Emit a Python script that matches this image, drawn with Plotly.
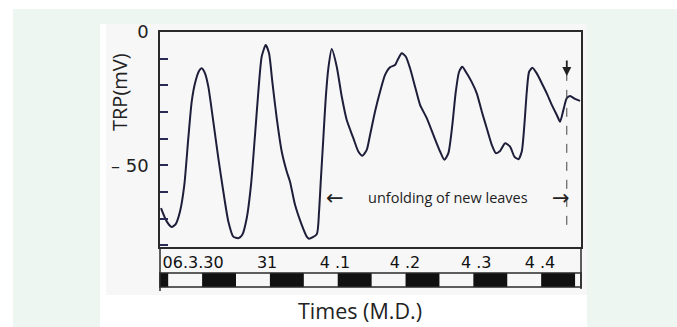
import plotly.graph_objects as go

# ---------------- data (hours from 2006-03-30 00:00, TRP in mV) ----------------
hours = [3.45, 5.47, 7.24, 8.66, 10.18, 11.71, 13.12, 14.32, 15.49, 16.91, 17.86, 19.03,
         20.2, 21.97, 23.74, 25.51, 27.28, 29.05, 30.82, 32.23, 33.79, 35.31, 36.73,
         37.9, 39.1, 40.52, 41.69, 42.85, 44.41, 46.18, 47.95, 49.12, 50.89, 53.26,
         55.03, 55.85, 58.57, 59.39, 59.99, 60.91, 61.76, 62.68, 63.88, 65.65, 67.42,
         69.19, 71.53, 73.3, 74.71, 76.27, 77.44, 79.21, 80.98, 82.75, 84.52, 86.29,
         87.46, 88.66, 90.08, 91.6, 93.37, 95.14, 97.51, 99.85, 102.22, 103.74, 105.16,
         106.57, 107.78, 108.95, 110.11, 111.67, 113.44, 115.21, 116.98, 118.75, 120.52,
         121.94, 123.46, 125.23, 127.0, 128.52, 129.94, 131.14, 132.06, 132.91, 133.73,
         134.89, 136.45, 138.22, 139.99, 141.76, 143.53, 144.7, 145.87, 147.07, 148.24,
         150.01, 151.78]
trp = [-66.0, -71.0, -73.1, -72.0, -67.3, -57.3, -39.8, -26.1, -19.2, -14.6, -13.6, -15.5,
       -20.5, -33.6, -47.3, -59.8, -71.0, -76.7, -77.3, -76.0, -69.8, -57.3, -38.6,
       -22.4, -9.2, -4.9, -8.0, -18.6, -32.3, -44.8, -52.3, -56.1, -64.8, -72.3,
       -76.7, -77.5, -75.8, -67.3, -56.1, -39.8, -24.8, -13.6, -6.4, -13.0, -24.2,
       -33.0, -39.8, -44.8, -46.4, -44.2, -38.6, -29.8, -22.4, -16.1, -13.2, -12.4,
       -9.9, -8.0, -9.2, -13.6, -20.5, -27.3, -32.3, -38.6, -44.8, -47.9, -45.4,
       -34.8, -22.4, -14.9, -13.0, -15.5, -18.8, -23.0, -29.8, -36.1, -42.3,
       -45.4, -44.6, -41.7, -43.0, -46.7, -47.7, -44.8, -34.8, -22.4, -14.9,
       -13.4, -15.5, -19.2, -23.0, -27.3, -31.1, -33.6, -29.2, -24.8, -24.0,
       -25.1, -25.8]

date_tick_hours = [14.8, 41.0, 65.0, 89.8, 115.0, 137.6]
date_tick_labels = ["06.3.30", "31", "4 .1", "4 .2", "4 .3", "4 .4"]

night_start = [0, 18, 42, 66, 90, 114, 138]
night_end = [6, 30, 54, 78, 102, 126, 150]

y_tick_vals = [0, -10, -20, -30, -40, -50, -60, -70, -80]
y_tick_text = ["0", "", "", "", "", "– 50", "", "", ""]

marker_hour = 147.07
marker_top_mv = -13.5
marker_bottom_mv = -72.3
leaves_from_hour = 65.0
leaves_to_hour = 145.1
leaves_label_hour = 105.0
leaves_label_mv = -62.2

x_range = [3.1, 152.1]
y_range = [-80.6, 0]

# ---------------- layout helpers ----------------
W, H = 677, 327


def px(x):
    return x / W


def py(y):
    return 1 - y / H


INK = "#1e1e3a"
LINE = "#2a2a2a"

fig = go.Figure()
fig.add_trace(go.Scatter(x=hours, y=trp, mode="lines",
                         line=dict(color=INK, width=2, shape="spline", smoothing=0.6),
                         hoverinfo="skip", showlegend=False))

shapes = []
# backgrounds
shapes.append(dict(type="rect", xref="paper", yref="paper", x0=px(13), x1=1, y0=0, y1=py(9),
                   fillcolor="#eef6f2", line=dict(width=0), layer="below"))
shapes.append(dict(type="rect", xref="paper", yref="paper", x0=px(100), x1=px(587), y0=0, y1=py(24),
                   fillcolor="#ffffff", line=dict(width=0), layer="below"))
shapes.append(dict(type="rect", xref="paper", yref="paper", x0=px(106), x1=px(587), y0=py(295), y1=py(24),
                   fillcolor="#f7f7f7", line=dict(width=0), layer="below"))
# frame extensions below the plot area
shapes.append(dict(type="line", xref="paper", yref="paper", x0=px(160), x1=px(160), y0=py(247), y1=py(291),
                   line=dict(color=LINE, width=1.5)))
shapes.append(dict(type="line", xref="paper", yref="paper", x0=px(581), x1=px(581), y0=py(247), y1=py(289),
                   line=dict(color=LINE, width=1.5)))
# day/night strip
for s, e in zip(night_start, night_end):
    shapes.append(dict(type="rect", xref="x", yref="paper", x0=max(s, x_range[0]), x1=min(e, x_range[1]),
                       y0=py(287), y1=py(273), fillcolor="#111111", line=dict(width=0)))
shapes.append(dict(type="rect", xref="paper", yref="paper", x0=px(160), x1=px(581), y0=py(287), y1=py(273),
                   line=dict(color=LINE, width=1.5)))
# dashed marker line
shapes.append(dict(type="line", xref="x", yref="y", x0=marker_hour, x1=marker_hour,
                   y0=marker_bottom_mv, y1=marker_top_mv, line=dict(color="#444", width=1, dash="dash")))

annotations = [
    dict(x=marker_hour, y=-16.5, xref="x", yref="y", ax=0, ay=-17, text="", showarrow=True,
         arrowhead=2, arrowsize=1, arrowwidth=1.8, arrowcolor="#222"),
    dict(x=leaves_from_hour, y=leaves_label_mv, xref="x", yref="y", text="←", showarrow=False,
         xanchor="center", yanchor="middle",
         font=dict(family="DejaVu Sans", size=21, color="#222")),
    dict(x=leaves_to_hour, y=leaves_label_mv, xref="x", yref="y", text="→", showarrow=False,
         xanchor="center", yanchor="middle",
         font=dict(family="DejaVu Sans", size=21, color="#222")),
    dict(x=leaves_label_hour, y=leaves_label_mv, xref="x", yref="y", text="unfolding of new leaves",
         showarrow=False, xanchor="center", yanchor="middle",
         font=dict(family="Open Sans", size=14.5, color="#222")),
    dict(x=px(120), y=py(92), xref="paper", yref="paper", text="TRP(mV)", textangle=-90,
         showarrow=False, xanchor="center", yanchor="middle",
         font=dict(family="Open Sans", size=20, color="#222")),
    dict(x=px(360), y=py(310), xref="paper", yref="paper", text="Times (M.D.)",
         showarrow=False, xanchor="center", yanchor="middle",
         font=dict(family="Open Sans", size=21.5, color="#222")),
]

fig.update_layout(
    width=W, height=H, margin=dict(l=0, r=0, t=0, b=0, autoexpand=False),
    paper_bgcolor="#ffffff", plot_bgcolor="rgba(0,0,0,0)",
    shapes=shapes, annotations=annotations, showlegend=False,
    xaxis=dict(domain=[px(160), px(581)], range=x_range, showgrid=False, zeroline=False,
               automargin=False,
               showline=True, linecolor=LINE, linewidth=1.5, mirror=True,
               tickmode="array", tickvals=date_tick_hours, ticktext=date_tick_labels,
               ticks="", ticklabelstandoff=0,
               tickfont=dict(family="DejaVu Sans", size=16, color="#111")),
    yaxis=dict(domain=[py(247), py(32)], range=y_range, showgrid=False, zeroline=False,
               automargin=False,
               showline=True, linecolor=LINE, linewidth=1.5, mirror=True,
               tickmode="array", tickvals=y_tick_vals, ticktext=y_tick_text,
               ticks="inside", ticklen=8, tickwidth=2, tickcolor="#2a2a55",
               ticklabelstandoff=6,
               tickfont=dict(family="DejaVu Sans", size=18, color="#222")),
)

fig.write_html("out.html")
